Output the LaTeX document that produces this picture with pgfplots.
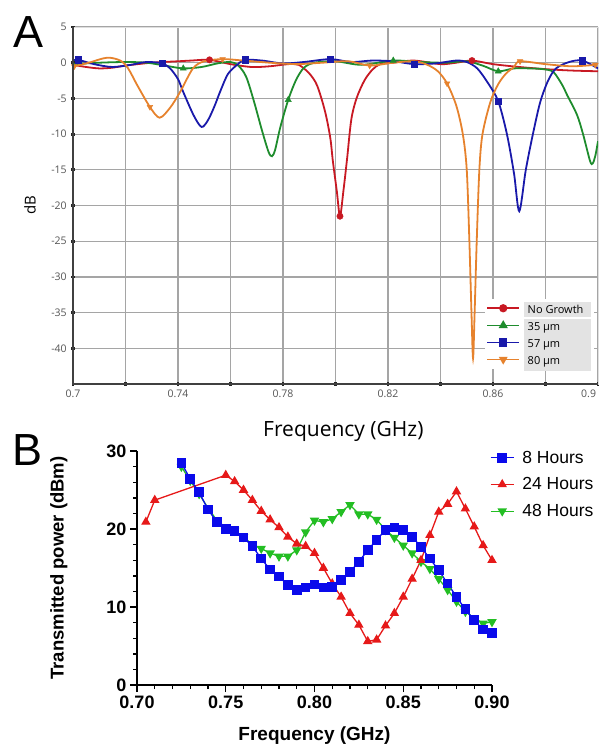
\documentclass[border=0pt]{standalone}
\usepackage{fontspec}
\setmainfont{Liberation Sans}
\newfontfamily\osans{Open Sans}
\usepackage{pgfplots}
\pgfplotsset{compat=1.18}
\definecolor{cRed}{RGB}{200,25,35}
\definecolor{cGreen}{RGB}{30,140,45}
\definecolor{cBlue}{RGB}{25,25,170}
\definecolor{cOrange}{RGB}{230,130,45}
\definecolor{bBlue}{RGB}{10,10,235}
\definecolor{bRed}{RGB}{230,25,25}
\definecolor{bGreen}{RGB}{35,190,35}
\definecolor{tickgray}{RGB}{85,85,85}
\definecolor{gridgray}{RGB}{165,165,165}
\begin{document}
\begin{tikzpicture}
\useasboundingbox (0pt,0pt) rectangle (603pt,-747pt);
\node[font=\fontsize{45}{45}\selectfont, anchor=base west, inner sep=0pt] at (13pt,-47pt) {A};
\node[font=\fontsize{45}{45}\selectfont, anchor=base west, inner sep=0pt] at (12pt,-465pt) {B};
% ---------------- Panel A ----------------
\begin{axis}[
  at={(73pt,-384pt)}, anchor=south west, scale only axis,
  width=525pt, height=357pt,
  xmin=0.7, xmax=0.9, ymin=-45, ymax=5,
  xtick={0.70,0.72,0.74,0.76,0.78,0.80,0.82,0.84,0.86,0.88,0.90},
  xticklabels={0.7,,0.74,,0.78,,0.82,,0.86,,\makebox[0pt][r]{0.9\hspace{2pt}}},
  ytick={-40,-35,-30,-25,-20,-15,-10,-5,0,5},
  /pgf/number format/assume math mode=true,
  xtick pos=bottom, ytick pos=left,
  tick align=center, major tick length=3.5pt,
  every tick/.style={black!85, line width=2.8pt},
  grid=major,
  major grid style={solid, draw=gridgray, line width=1.2pt},
  axis line style={gray!25, line width=0.8pt},
  tick label style={font=\osans\fontsize{10.5}{12}\selectfont, text=tickgray},
  xticklabel style={yshift=-1pt},
  yticklabel style={xshift=-1pt},
  xlabel={Frequency (GHz)},
  xlabel style={font=\osans\fontsize{21}{24}\selectfont, at={(axis description cs:0.515,-0.148)}, anchor=base},
  ylabel={dB},
  ylabel style={font=\osans\fontsize{15}{18}\selectfont, at={(axis description cs:-0.082,0.5)}, anchor=center},
  extra description/.code={\draw[black!75, line width=1.6pt] (axis description cs:0,1) -- (axis description cs:0,0) -- (axis description cs:1,0);},
  legend style={at={(axis description cs:0.785,0.24)}, anchor=north west, fill=white, draw=none,
    font=\osans\fontsize{11}{12}\selectfont, row sep=0pt, inner sep=1pt,
    /tikz/every odd column/.append style={column sep=2pt}},
  legend cell align=left,
  legend image code/.code={\draw[mark repeat=2,mark phase=2] plot coordinates {(0pt,0pt) (16pt,0pt) (32pt,0pt)};},
]
\setlength{\fboxsep}{3.6pt}
% Red: No Growth
\addplot[cRed, line width=1.8pt, smooth, forget plot] coordinates {
(0.700,-0.3) (0.705,-0.6) (0.710,-0.8) (0.715,-0.7) (0.720,-0.4) (0.730,0.0) (0.740,0.2) (0.745,0.3)
(0.752,0.4) (0.760,-0.2) (0.768,-0.6) (0.775,-0.5) (0.782,-0.2) (0.786,-0.3) (0.790,-1.5) (0.793,-3.2)
(0.796,-6.8) (0.798,-10.5) (0.799,-13.8) (0.8005,-18) (0.8017,-21.5) (0.803,-18) (0.8044,-13.5)
(0.806,-8) (0.808,-5) (0.811,-2.5) (0.814,-1.0) (0.817,-0.2) (0.822,0.0) (0.830,0.3) (0.840,-0.2)
(0.846,0.0) (0.852,0.3) (0.860,-0.2) (0.870,-0.6) (0.880,-0.9) (0.890,-1.1) (0.900,-1.2)};
\addplot[cRed, only marks, mark=*, mark size=3.2pt, forget plot] coordinates {(0.752,0.4) (0.8017,-21.5) (0.852,0.3)};
% Green: 35 um
\addplot[cGreen, line width=1.8pt, smooth, forget plot] coordinates {
(0.700,-0.2) (0.710,0.0) (0.720,0.1) (0.728,0.0) (0.735,-0.4) (0.742,-0.8) (0.749,-0.6) (0.755,-0.1)
(0.760,0.1) (0.763,-0.4) (0.766,-2.0) (0.769,-5.5) (0.772,-9.5) (0.7745,-12.5) (0.7758,-13.1)
(0.777,-12.2) (0.779,-9.0) (0.782,-5.2) (0.785,-2.4) (0.788,-0.7) (0.792,0.0) (0.800,0.2) (0.810,-0.3)
(0.822,0.3) (0.832,0.1) (0.842,0.0) (0.850,0.2) (0.856,-0.4) (0.862,-1.2) (0.868,-0.8) (0.874,-0.8)
(0.879,-0.9) (0.883,-1.3) (0.8865,-3.2) (0.8882,-4.5) (0.892,-7.3) (0.8943,-10) (0.897,-13.8)
(0.898,-14.1) (0.899,-13) (0.900,-11)};
\addplot[cGreen, only marks, mark=triangle*, mark size=3.6pt, forget plot] coordinates {(0.742,-0.8) (0.782,-5.2) (0.822,0.3) (0.862,-1.2)};
% Blue: 57 um
\addplot[cBlue, line width=1.8pt, smooth, forget plot] coordinates {
(0.700,0.3) (0.702,0.4) (0.708,-0.2) (0.715,-0.6) (0.722,-0.3) (0.728,0.1) (0.734,-0.1) (0.737,-0.8)
(0.740,-2.3) (0.742,-4.1) (0.746,-7.4) (0.749,-9.0) (0.7515,-8.0) (0.754,-6.0) (0.756,-4.1)
(0.759,-1.6) (0.7625,-0.3) (0.7655,0.4) (0.772,0.3) (0.780,-0.1) (0.788,0.1) (0.798,0.5) (0.806,0.1)
(0.814,0.3) (0.822,0.2) (0.830,-0.2) (0.838,-0.1) (0.846,0.3) (0.850,0.1) (0.854,-0.8) (0.858,-2.8)
(0.862,-5.4) (0.8653,-10) (0.868,-15.5) (0.870,-20.8) (0.8725,-15) (0.8752,-10) (0.878,-5.5)
(0.881,-2.5) (0.884,-0.8) (0.889,0.1) (0.894,0.3) (0.900,-0.8)};
\addplot[cBlue, only marks, mark=square*, mark size=3.2pt, forget plot] coordinates {(0.702,0.4) (0.734,-0.1) (0.7655,0.4) (0.798,0.5) (0.830,-0.2) (0.862,-5.4) (0.894,0.3)};
% Orange: 80 um
\addplot[cOrange, line width=1.8pt, smooth, forget plot] coordinates {
(0.7005,-0.5) (0.706,0.0) (0.713,0.7) (0.718,0.3) (0.721,-0.8) (0.7244,-3.1) (0.7293,-6.2) (0.733,-7.7)
(0.737,-6.3) (0.7408,-4.1) (0.7457,-0.8) (0.750,0.2) (0.757,0.5) (0.765,0.3) (0.775,0.0) (0.785,-0.2)
(0.795,0.0) (0.805,0.2) (0.813,-0.4) (0.822,0.0) (0.830,0.2) (0.835,-0.3) (0.839,-1.2) (0.8425,-2.9)
(0.846,-6) (0.8485,-10) (0.850,-15) (0.851,-25) (0.8518,-35) (0.8524,-41.4) (0.853,-35) (0.8538,-25)
(0.8548,-15) (0.856,-10) (0.859,-5.5) (0.862,-3) (0.865,-1.5) (0.868,-0.6) (0.8703,0.2) (0.880,-0.2)
(0.890,-0.5) (0.899,-0.3)};
\addplot[cOrange, only marks, mark=triangle*, mark options={rotate=180}, mark size=3.3pt, forget plot] coordinates {(0.7005,-0.5) (0.7293,-6.2) (0.757,0.5) (0.813,-0.4) (0.8425,-2.9) (0.8703,0.2) (0.899,-0.3)};
\addlegendimage{cRed, line width=1.8pt, mark=*, mark size=3.2pt}
\addlegendentry{\colorbox{gray!22}{\makebox[60pt][l]{No Growth}}}
\addlegendimage{cGreen, line width=1.8pt, mark=triangle*, mark size=3.6pt}
\addlegendentry{\colorbox{gray!22}{\makebox[60pt][l]{35 µm}}}
\addlegendimage{cBlue, line width=1.8pt, mark=square*, mark size=3.2pt}
\addlegendentry{\colorbox{gray!22}{\makebox[60pt][l]{57 µm}}}
\addlegendimage{cOrange, line width=1.8pt, mark=triangle*, mark options={rotate=180}, mark size=3.3pt}
\addlegendentry{\colorbox{gray!22}{\makebox[60pt][l]{80 µm}}}
\end{axis}
% ---------------- Panel B ----------------
\begin{axis}[
  at={(137pt,-685pt)}, anchor=south west, scale only axis,
  width=355pt, height=234pt,
  xmin=0.70, xmax=0.90, ymin=0, ymax=30,
  axis x line=bottom, axis y line=left,
  axis line style={-, line width=1.6pt, black},
  tick align=outside,
  tick style={line width=1.4pt, black},
  major tick length=7pt, minor tick length=4pt,
  xtick={0.70,0.75,0.80,0.85,0.90},
  xticklabels={0.70,0.75,0.80,0.85,0.90},
  minor x tick num=4,
  ytick={0,10,20,30}, minor y tick num=4,
  /pgf/number format/assume math mode=true,
  tick label style={font=\fontsize{18}{20}\selectfont\bfseries},
  xlabel={Frequency (GHz)},
  xlabel style={font=\fontsize{19}{22}\selectfont\bfseries, at={(axis description cs:0.5,-0.235)}, anchor=base},
  ylabel={Transmitted power (dBm)},
  ylabel style={font=\fontsize{18.5}{22}\selectfont\bfseries, at={(axis description cs:-0.22,0.5)}, anchor=center},
  legend style={at={(axis description cs:0.994,1.01)}, anchor=north west, draw=none, fill=none,
    font=\fontsize{17.5}{20}\selectfont, row sep=9pt, inner sep=0pt,
    /tikz/every odd column/.append style={column sep=6pt}},
  legend cell align=left,
  reverse legend,
  legend image code/.code={\draw[mark repeat=2,mark phase=2] plot coordinates {(0pt,0pt) (11.5pt,0pt) (23pt,0pt)};},
]
% 48 Hours
\addplot[bGreen, line width=1.3pt, mark=triangle*, mark options={rotate=180}, mark size=4.2pt] coordinates {
(0.725,28.0) (0.730,26.2) (0.735,24.5) (0.740,22.7) (0.745,21.1) (0.750,20.2) (0.755,19.8) (0.760,19.0)
(0.765,18.0) (0.770,17.5) (0.775,16.9) (0.780,16.5) (0.785,16.5) (0.790,17.3) (0.795,19.6) (0.800,21.1)
(0.805,20.9) (0.810,21.3) (0.815,22.2) (0.820,23.1) (0.825,21.9) (0.830,21.9) (0.835,21.2) (0.840,19.9)
(0.845,18.9) (0.850,17.9) (0.855,16.9) (0.860,15.8) (0.865,14.9) (0.870,13.6) (0.875,12.2) (0.880,10.7)
(0.885,9.4) (0.890,8.6) (0.895,7.9) (0.900,8.1)};
\addlegendentry{48 Hours}
% 24 Hours
\addplot[bRed, line width=1.3pt, mark=triangle*, mark size=4.2pt] coordinates {
(0.705,20.9) (0.710,23.7) (0.750,26.9) (0.755,26.1) (0.760,25.0) (0.765,23.7) (0.770,22.3) (0.775,21.2)
(0.780,20.2) (0.785,19.0) (0.790,18.1) (0.795,17.8) (0.800,16.9) (0.805,15.0) (0.810,13.0) (0.815,11.3)
(0.820,9.2) (0.825,7.7) (0.830,5.6) (0.835,5.8) (0.840,7.6) (0.845,9.2) (0.850,11.3) (0.855,13.6)
(0.860,16.0) (0.865,19.2) (0.870,22.2) (0.875,23.2) (0.880,24.8) (0.885,22.6) (0.890,20.3) (0.895,17.9)
(0.900,16.0)};
\addlegendentry{24 Hours}
% 8 Hours
\addplot[bBlue, line width=1.3pt, mark=square*, mark size=4.2pt] coordinates {
(0.725,28.5) (0.730,26.4) (0.735,24.7) (0.740,22.5) (0.745,20.9) (0.750,20.0) (0.755,19.7) (0.760,18.9)
(0.765,17.8) (0.770,16.2) (0.775,14.8) (0.780,13.9) (0.785,12.8) (0.790,12.2) (0.795,12.5) (0.800,12.9)
(0.805,12.5) (0.810,12.6) (0.815,13.5) (0.820,14.5) (0.825,15.8) (0.830,17.3) (0.835,18.6) (0.840,19.9)
(0.845,20.2) (0.850,19.9) (0.855,19.0) (0.860,17.7) (0.865,16.2) (0.870,14.7) (0.875,13.0) (0.880,11.3)
(0.885,9.7) (0.890,8.3) (0.895,7.1) (0.900,6.7)};
\addlegendentry{8 Hours}
\end{axis}
\end{tikzpicture}
\end{document}
